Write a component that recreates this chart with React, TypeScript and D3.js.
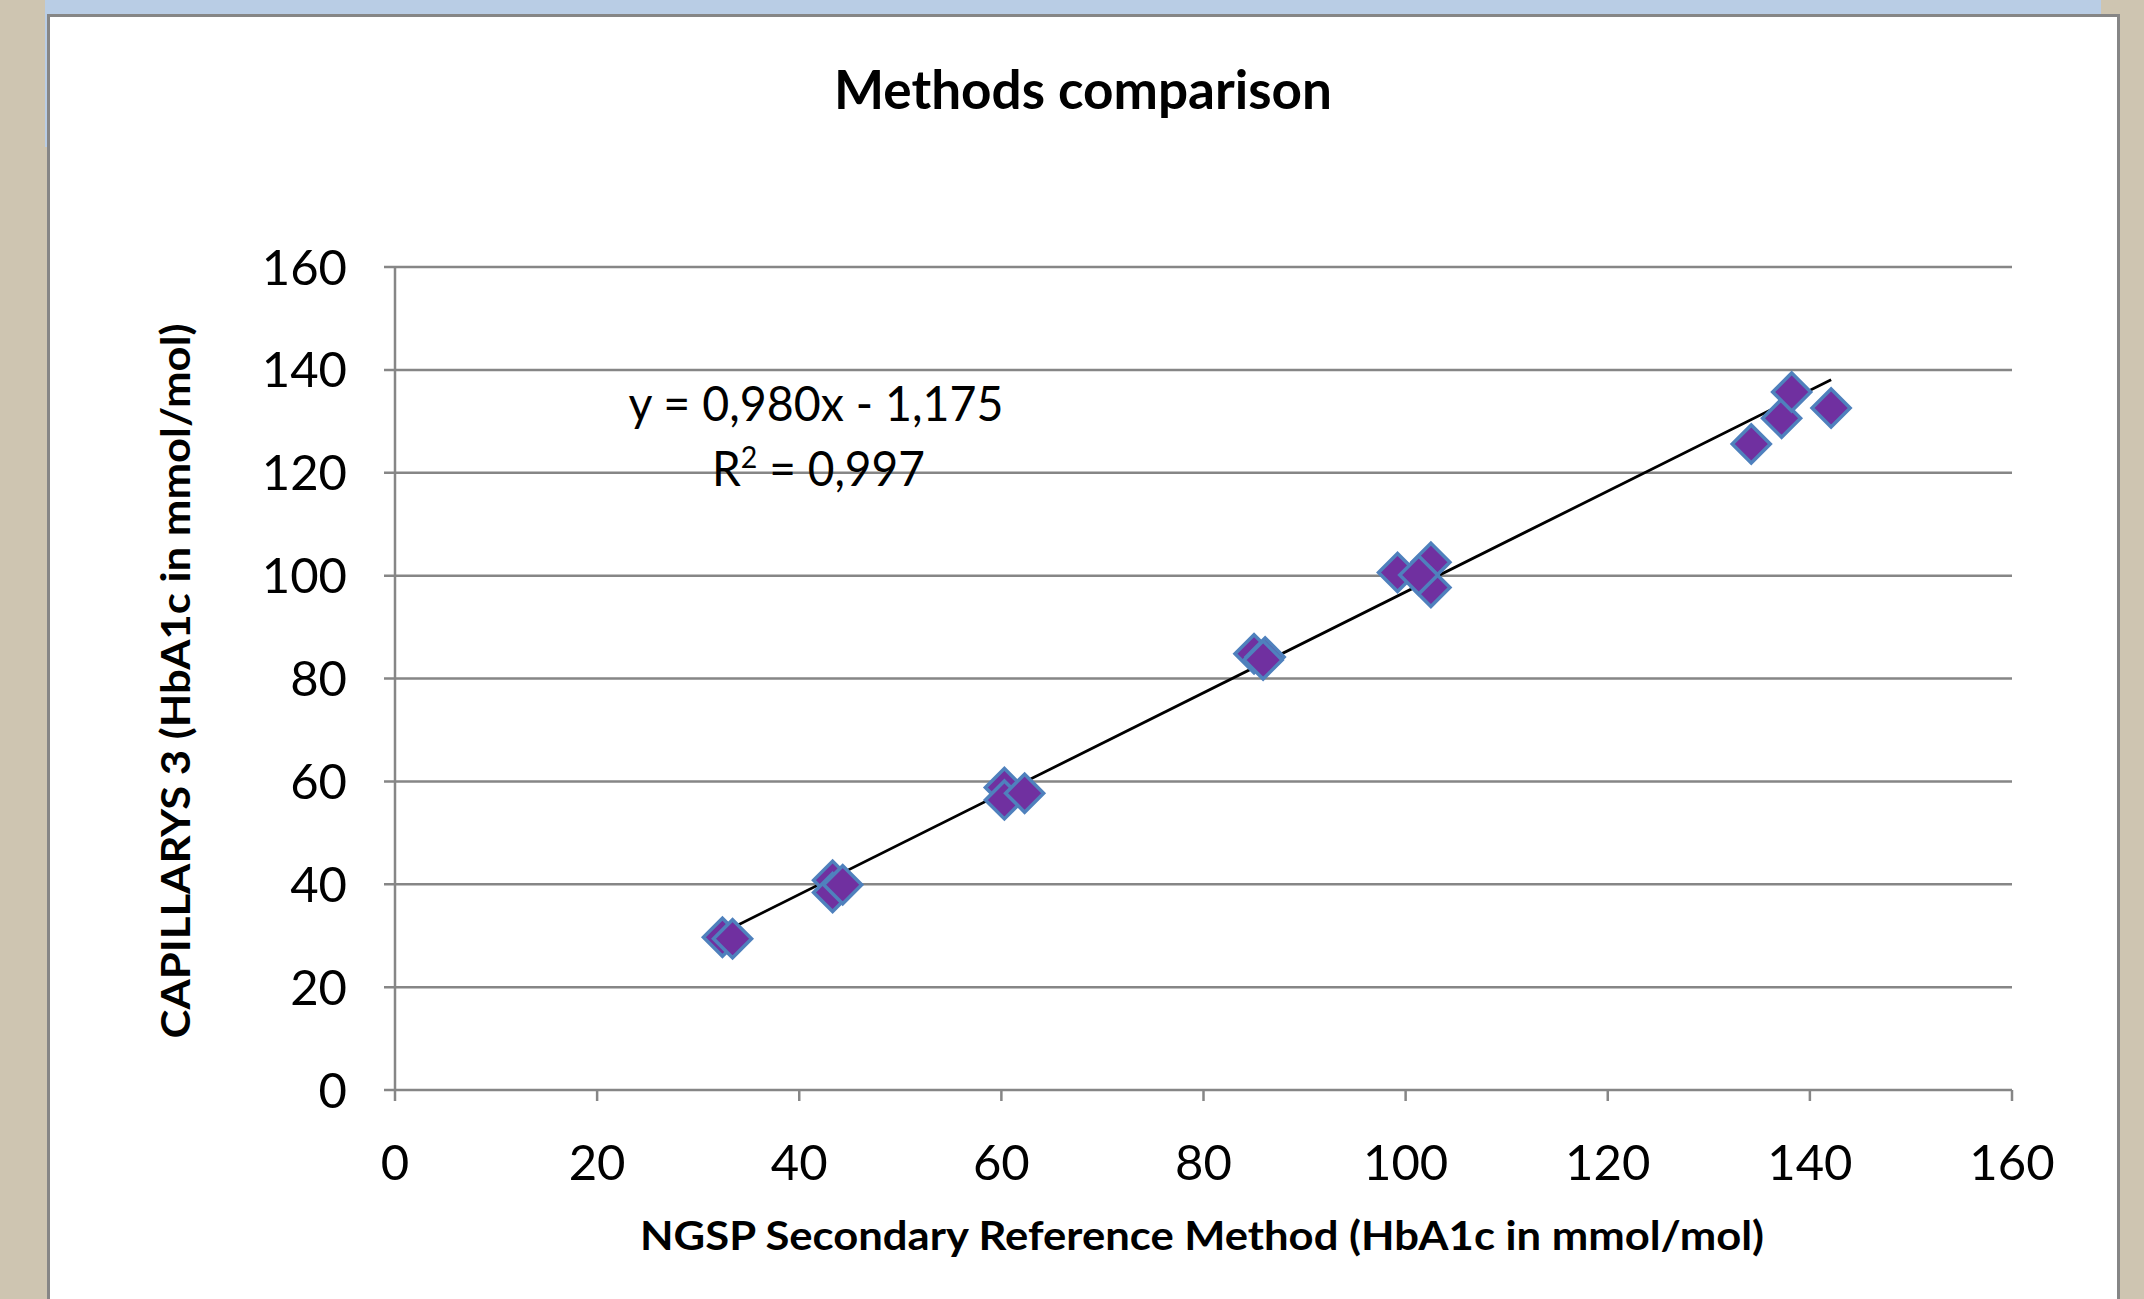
import React from "react";
import * as d3 from "d3";

// ---- data ----
const ngspValues = [32.4, 33.4, 43.3, 43.3, 44.3, 60.3, 60.3, 62.3, 85.0, 86.1, 85.9, 99.2, 102.5, 102.5, 101.3, 134.2, 137.2, 138.2, 142.1];
const capillarysValues = [29.7, 29.4, 40.8, 38.4, 39.9, 58.8, 56.4, 57.7, 84.8, 84.2, 83.6, 100.6, 102.6, 97.7, 100.1, 125.6, 130.6, 135.7, 132.6];
const xTicks = [0, 20, 40, 60, 80, 100, 120, 140, 160];
const yTicks = [0, 20, 40, 60, 80, 100, 120, 140, 160];
const slope = 0.98;
const intercept = -1.175;
const eqLine1 = "y = 0,980x - 1,175";
const eqLine2Pre = "R";
const eqLine2Post = " = 0,997";
const titleText = "Methods comparison";
const xLabel = "NGSP Secondary Reference Method (HbA1c in mmol/mol)";
const yLabel = "CAPILLARYS 3 (HbA1c in mmol/mol)";

const W = 2144;
const H = 1299;
const FONT = "Lato, 'Open Sans', sans-serif";
const GRID = "#868686";

export default function App() {
  const x = d3.scaleLinear().domain([0, 160]).range([395, 2012]);
  const y = d3.scaleLinear().domain([0, 160]).range([1090, 267]);

  const pts = ngspValues.map((v, i) => ({ x: v, y: capillarysValues[i] }));
  const [xmin, xmax] = d3.extent(ngspValues) as [number, number];
  const trend = d3
    .line<number>()
    .x((d) => x(d))
    .y((d) => y(slope * d + intercept))([xmin, xmax]);

  const r = 19;
  const diamondPath = `M0,${-r}L${r},0L0,${r}L${-r},0Z`;

  return (
    <div style={{ position: "absolute", left: 0, top: 0, width: W, height: H }}>
      <svg width={W} height={H} style={{ display: "block" }}>
        {/* backgrounds */}
        <rect x={0} y={0} width={W} height={H} fill="#cec5b1" />
        <rect x={45} y={0} width={2056} height={147} fill="#b9cde5" />
        <rect x={48.5} y={15.5} width={2070} height={H} fill="#ffffff" stroke={GRID} strokeWidth={3} />

        {/* title */}
        <text
          x={1083}
          y={109}
          textAnchor="middle"
          fontFamily={FONT}
          fontWeight={700}
          fontSize={53}
          textLength={498}
          lengthAdjust="spacingAndGlyphs"
          fill="#000"
        >
          {titleText}
        </text>

        {/* gridlines */}
        {yTicks.map((t) => (
          <line key={"g" + t} x1={384} x2={x(160)} y1={y(t)} y2={y(t)} stroke={GRID} strokeWidth={2.5} />
        ))}
        {/* y axis line */}
        <line x1={x(0)} x2={x(0)} y1={y(160)} y2={y(0)} stroke={GRID} strokeWidth={2.5} />
        {/* x ticks */}
        {xTicks.map((t) => (
          <line key={"xt" + t} x1={x(t)} x2={x(t)} y1={y(0)} y2={y(0) + 11} stroke={GRID} strokeWidth={2.5} />
        ))}

        {/* y tick labels */}
        {yTicks.map((t) => (
          <text
            key={"yl" + t}
            x={347}
            y={y(t) + 17.5}
            textAnchor="end"
            fontFamily={FONT}
            fontSize={49}
            fill="#000"
          >
            {t}
          </text>
        ))}
        {/* x tick labels */}
        {xTicks.map((t) => (
          <text
            key={"xl" + t}
            x={x(t)}
            y={1180}
            textAnchor="middle"
            fontFamily={FONT}
            fontSize={49}
            fill="#000"
          >
            {t}
          </text>
        ))}

        {/* trendline */}
        <path d={trend || ""} fill="none" stroke="#000" strokeWidth={2.8} />

        {/* points */}
        {pts.map((p, i) => (
          <path
            key={"p" + i}
            d={diamondPath}
            transform={`translate(${x(p.x)},${y(p.y)})`}
            fill="#7030a0"
            stroke="#4f81bd"
            strokeWidth={3.5}
            strokeLinejoin="miter"
          />
        ))}

        {/* equation */}
        <text
          x={816}
          y={421}
          textAnchor="middle"
          fontFamily={FONT}
          fontSize={48.5}
          textLength={375}
          lengthAdjust="spacingAndGlyphs"
          fill="#000"
        >
          {eqLine1}
        </text>
        <text
          x={712}
          y={486}
          fontFamily={FONT}
          fontSize={48.5}
          textLength={213}
          lengthAdjust="spacingAndGlyphs"
          fill="#000"
        >
          {eqLine2Pre}
          <tspan fontSize={30} dy={-18}>2</tspan>
          <tspan dy={18}>{eqLine2Post}</tspan>
        </text>

        {/* axis titles */}
        <text
          x={1202}
          y={1250}
          textAnchor="middle"
          fontFamily={FONT}
          fontWeight={700}
          fontSize={40.5}
          textLength={1124}
          lengthAdjust="spacingAndGlyphs"
          fill="#000"
        >
          {xLabel}
        </text>
        <text
          transform={`translate(190,681) rotate(-90)`}
          textAnchor="middle"
          fontFamily={FONT}
          fontWeight={700}
          fontSize={40.5}
          textLength={715}
          lengthAdjust="spacingAndGlyphs"
          fill="#000"
        >
          {yLabel}
        </text>
      </svg>
    </div>
  );
}
